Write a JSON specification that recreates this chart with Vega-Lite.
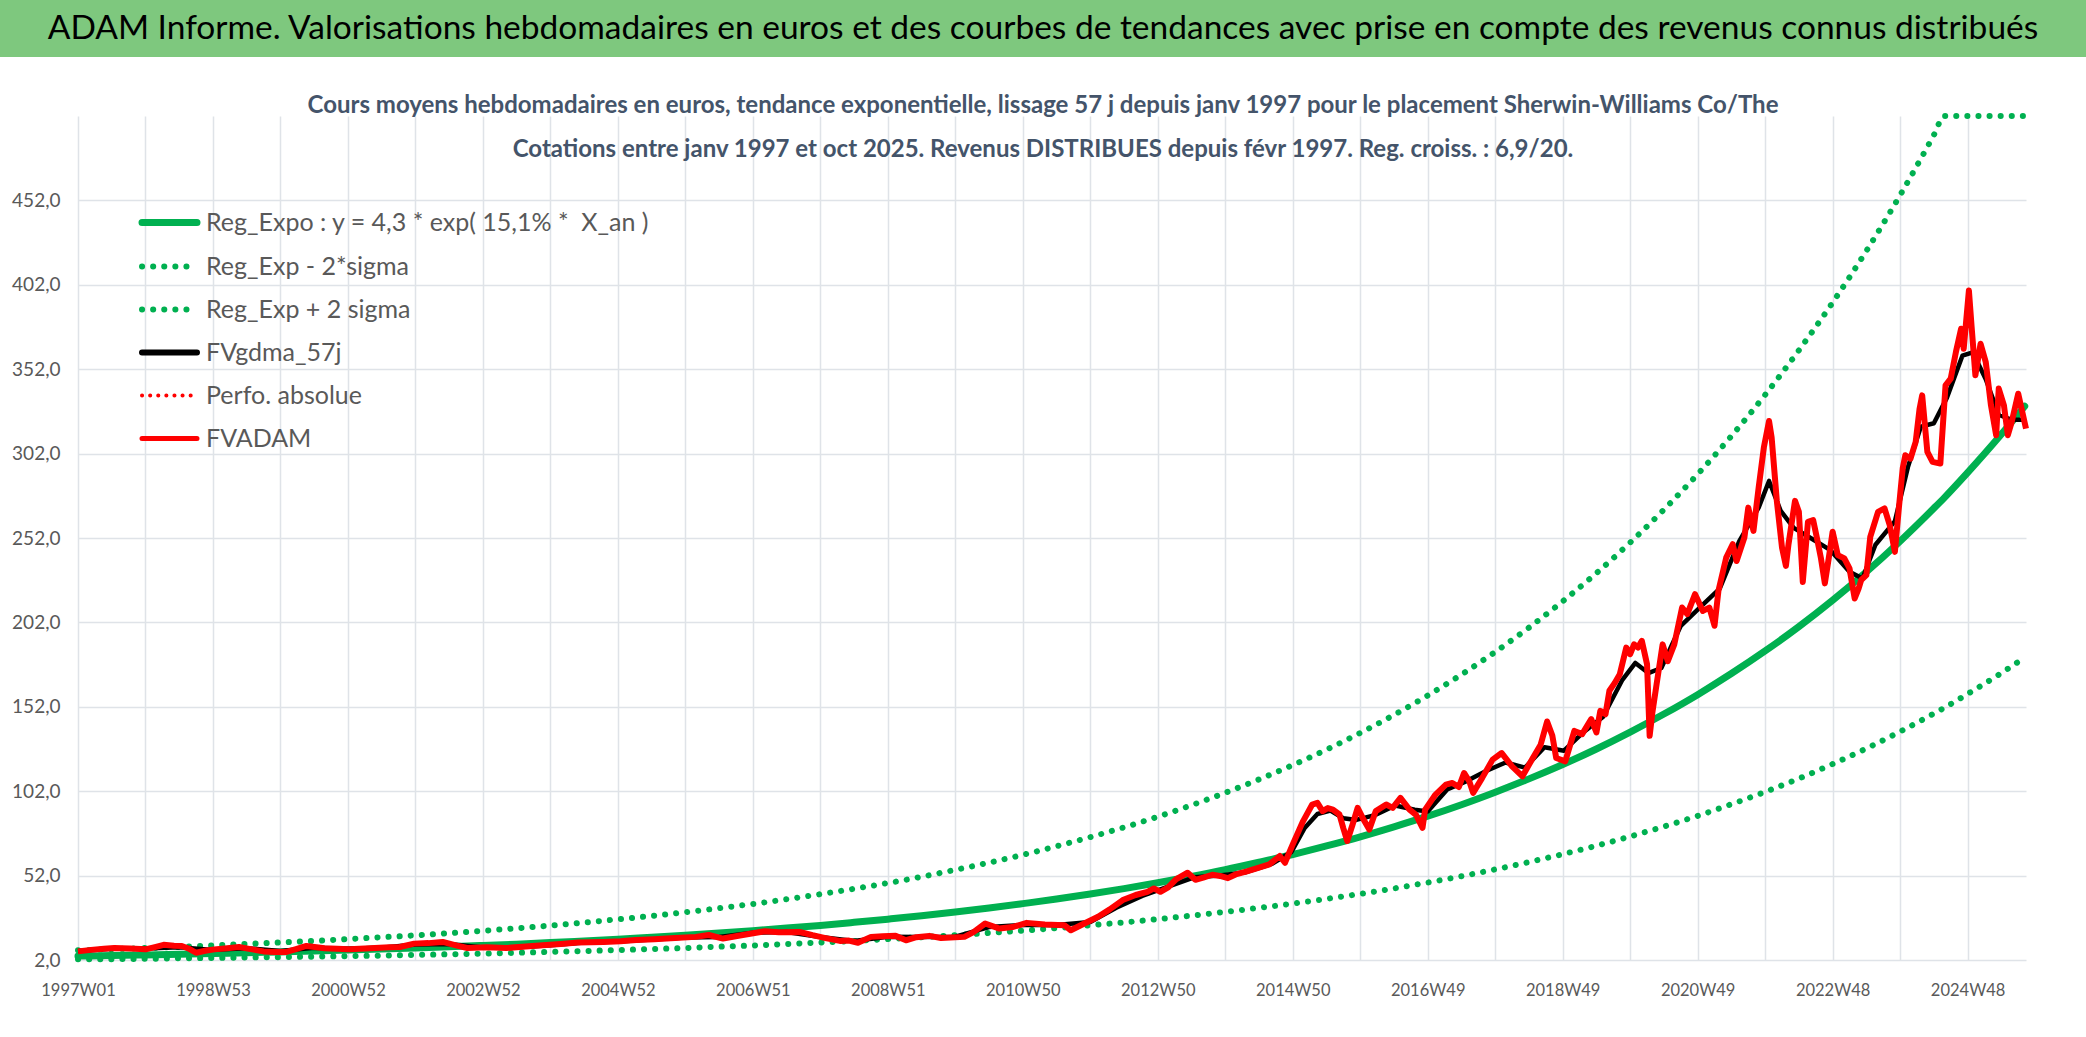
{
  "$schema": "https://vega.github.io/schema/vega-lite/v6.json",
  "background": "white",
  "padding": 0,
  "spacing": 37,
  "config": {
    "view": {"stroke": null},
    "font": "Lato"
  },
  "datasets": {
    "trend": [
      {"w":0,"reg":4.3,"lo":2.4,"hi":7.8},{"w":26,"reg":4.6,"lo":2.5,"hi":8.4},{"w":52,"reg":5.0,"lo":2.7,"hi":9.1},
      {"w":78,"reg":5.4,"lo":3.0,"hi":9.8},{"w":104,"reg":5.8,"lo":3.2,"hi":10.6},{"w":130,"reg":6.3,"lo":3.5,"hi":11.5},
      {"w":156,"reg":6.8,"lo":3.7,"hi":12.4},{"w":182,"reg":7.3,"lo":4.0,"hi":13.3},{"w":208,"reg":7.9,"lo":4.3,"hi":14.4},
      {"w":234,"reg":8.5,"lo":4.6,"hi":15.5},{"w":260,"reg":9.1,"lo":5.0,"hi":16.6},{"w":286,"reg":9.8,"lo":5.4,"hi":17.9},
      {"w":312,"reg":10.6,"lo":5.8,"hi":19.3},{"w":338,"reg":11.4,"lo":6.3,"hi":20.8},{"w":364,"reg":12.3,"lo":6.8,"hi":22.4},
      {"w":390,"reg":13.3,"lo":7.3,"hi":24.2},{"w":416,"reg":14.3,"lo":7.9,"hi":26.1},{"w":442,"reg":15.5,"lo":8.5,"hi":28.1},
      {"w":468,"reg":16.7,"lo":9.1,"hi":30.3},{"w":494,"reg":18.0,"lo":9.9,"hi":32.7},{"w":520,"reg":19.4,"lo":10.6,"hi":35.2},
      {"w":546,"reg":20.9,"lo":11.5,"hi":38.0},{"w":572,"reg":22.5,"lo":12.4,"hi":41.0},{"w":598,"reg":24.3,"lo":13.3,"hi":44.2},
      {"w":624,"reg":26.2,"lo":14.4,"hi":47.6},{"w":650,"reg":28.2,"lo":15.5,"hi":51.3},{"w":676,"reg":30.4,"lo":16.7,"hi":55.4},
      {"w":702,"reg":32.8,"lo":18.0,"hi":59.7},{"w":728,"reg":35.4,"lo":19.4,"hi":64.3},{"w":754,"reg":38.1,"lo":20.9,"hi":69.4},
      {"w":780,"reg":41.1,"lo":22.6,"hi":74.8},{"w":806,"reg":44.3,"lo":24.3,"hi":80.6},{"w":832,"reg":47.8,"lo":26.2,"hi":86.9},
      {"w":858,"reg":51.5,"lo":28.3,"hi":93.7},{"w":884,"reg":55.5,"lo":30.5,"hi":101.1},{"w":910,"reg":59.9,"lo":32.9,"hi":109.0},
      {"w":936,"reg":64.5,"lo":35.4,"hi":117.5},{"w":962,"reg":69.6,"lo":38.2,"hi":126.6},{"w":988,"reg":75.0,"lo":41.2,"hi":136.5},
      {"w":1014,"reg":80.9,"lo":44.4,"hi":147.2},{"w":1040,"reg":87.2,"lo":47.9,"hi":158.7},{"w":1066,"reg":94.0,"lo":51.6,"hi":171.1},
      {"w":1092,"reg":101.4,"lo":55.7,"hi":184.5},{"w":1118,"reg":109.3,"lo":60.0,"hi":198.9},{"w":1144,"reg":117.8,"lo":64.7,"hi":214.5},
      {"w":1170,"reg":127.0,"lo":69.7,"hi":231.2},{"w":1196,"reg":137.0,"lo":75.2,"hi":249.3},{"w":1222,"reg":147.7,"lo":81.1,"hi":268.8},
      {"w":1248,"reg":159.2,"lo":87.4,"hi":289.8},{"w":1274,"reg":171.7,"lo":94.3,"hi":312.4},{"w":1300,"reg":185.1,"lo":101.6,"hi":336.8},
      {"w":1326,"reg":199.5,"lo":109.5,"hi":363.2},{"w":1352,"reg":215.1,"lo":118.1,"hi":391.5},{"w":1378,"reg":231.9,"lo":127.3,"hi":422.1},
      {"w":1404,"reg":250.1,"lo":137.3,"hi":455.1},{"w":1430,"reg":269.6,"lo":148.0,"hi":490.7},{"w":1438,"reg":275.8,"lo":151.4,"hi":502},
      {"w":1456,"reg":290.7,"lo":159.6,"hi":502},{"w":1482,"reg":313.4,"lo":172.0,"hi":502},{"w":1500,"reg":330.1,"lo":181.2,"hi":502}
    ],
    "gdma": [
      {"w":0,"gd":7.3},{"w":26,"gd":8.6},{"w":52,"gd":8.8},{"w":78,"gd":9.6},{"w":104,"gd":8.0},{"w":130,"gd":9.0},
      {"w":156,"gd":7.3},{"w":182,"gd":9.3},{"w":208,"gd":8.6},{"w":234,"gd":9.2},{"w":260,"gd":11.2},{"w":286,"gd":11.5},
      {"w":312,"gd":9.4},{"w":338,"gd":9.6},{"w":364,"gd":10.8},{"w":390,"gd":12.3},{"w":416,"gd":13.0},{"w":442,"gd":14.2},
      {"w":468,"gd":15.3},{"w":494,"gd":15.6},{"w":520,"gd":18.2},{"w":546,"gd":18.6},{"w":572,"gd":15.6},{"w":598,"gd":13.2},
      {"w":624,"gd":15.8},{"w":650,"gd":15.6},{"w":676,"gd":15.8},{"w":702,"gd":21.5},{"w":728,"gd":22.8},{"w":754,"gd":22.8},
      {"w":780,"gd":24.5},{"w":800,"gd":33.0},{"w":820,"gd":40.0},{"w":840,"gd":45.5},{"w":860,"gd":51.0},{"w":880,"gd":52.0},
      {"w":900,"gd":54.0},{"w":920,"gd":59.0},{"w":935,"gd":66.0},{"w":945,"gd":80.0},{"w":955,"gd":88.5},{"w":965,"gd":90.5},
      {"w":975,"gd":86.0},{"w":985,"gd":85.0},{"w":1000,"gd":88.0},{"w":1015,"gd":93.5},{"w":1030,"gd":91.0},{"w":1040,"gd":90.0},
      {"w":1055,"gd":103.0},{"w":1070,"gd":108.0},{"w":1085,"gd":114.0},{"w":1100,"gd":119.0},{"w":1115,"gd":116.0},{"w":1130,"gd":128.0},
      {"w":1145,"gd":126.0},{"w":1160,"gd":137.0},{"w":1175,"gd":146.0},{"w":1190,"gd":168.0},{"w":1200,"gd":178.0},{"w":1210,"gd":172.0},
      {"w":1220,"gd":175.0},{"w":1235,"gd":200.0},{"w":1250,"gd":211.0},{"w":1265,"gd":222.0},{"w":1280,"gd":250.0},{"w":1295,"gd":270.0},
      {"w":1303,"gd":285.8},{"w":1312,"gd":268.0},{"w":1322,"gd":258.0},{"w":1335,"gd":252.0},{"w":1350,"gd":245.0},{"w":1365,"gd":232.0},
      {"w":1375,"gd":228.0},{"w":1385,"gd":248.0},{"w":1400,"gd":262.0},{"w":1410,"gd":294.0},{"w":1420,"gd":318.0},{"w":1430,"gd":320.0},
      {"w":1440,"gd":335.0},{"w":1452,"gd":360.0},{"w":1460,"gd":362.0},{"w":1470,"gd":346.0},{"w":1480,"gd":325.0},{"w":1490,"gd":322.0},
      {"w":1501,"gd":322.0}
    ],
    "adam": [
      {"w":0,"fv":7.1},{"w":10,"fv":8.0},{"w":20,"fv":8.6},{"w":28,"fv":9.1},{"w":40,"fv":8.8},{"w":52,"fv":8.3},{"w":60,"fv":9.8},
      {"w":66,"fv":11.0},{"w":74,"fv":10.5},{"w":80,"fv":10.3},{"w":86,"fv":8.5},{"w":91,"fv":6.3},{"w":98,"fv":7.5},{"w":105,"fv":8.3},
      {"w":115,"fv":9.0},{"w":124,"fv":9.7},{"w":132,"fv":8.6},{"w":143,"fv":7.1},{"w":152,"fv":6.8},{"w":160,"fv":6.7},{"w":168,"fv":8.5},
      {"w":176,"fv":10.3},{"w":190,"fv":9.0},{"w":209,"fv":8.3},{"w":225,"fv":9.0},{"w":240,"fv":9.5},{"w":248,"fv":9.7},{"w":259,"fv":11.7},
      {"w":270,"fv":12.0},{"w":281,"fv":12.7},{"w":292,"fv":10.5},{"w":300,"fv":9.1},{"w":315,"fv":9.5},{"w":330,"fv":9.1},{"w":345,"fv":10.0},
      {"w":358,"fv":10.7},{"w":372,"fv":11.5},{"w":385,"fv":12.3},{"w":405,"fv":12.7},{"w":418,"fv":13.1},{"w":430,"fv":13.8},{"w":444,"fv":14.3},
      {"w":460,"fv":15.0},{"w":476,"fv":15.7},{"w":486,"fv":16.8},{"w":497,"fv":14.7},{"w":510,"fv":16.5},{"w":529,"fv":19.0},{"w":540,"fv":18.5},
      {"w":556,"fv":18.6},{"w":566,"fv":16.7},{"w":576,"fv":15.0},{"w":587,"fv":13.3},{"w":594,"fv":13.5},{"w":601,"fv":12.2},{"w":611,"fv":15.7},
      {"w":620,"fv":16.0},{"w":630,"fv":16.3},{"w":638,"fv":13.7},{"w":646,"fv":15.5},{"w":656,"fv":16.3},{"w":665,"fv":15.0},{"w":683,"fv":15.7},
      {"w":690,"fv":18.5},{"w":699,"fv":23.6},{"w":710,"fv":20.6},{"w":720,"fv":21.5},{"w":731,"fv":24.0},{"w":745,"fv":23.0},{"w":760,"fv":22.6},
      {"w":765,"fv":19.6},{"w":775,"fv":23.5},{"w":786,"fv":27.6},{"w":795,"fv":32.0},{"w":805,"fv":37.5},{"w":815,"fv":40.5},{"w":824,"fv":42.4},
      {"w":829,"fv":44.4},{"w":834,"fv":42.4},{"w":840,"fv":45.0},{"w":846,"fv":49.8},{"w":855,"fv":53.7},{"w":861,"fv":49.5},{"w":867,"fv":50.8},
      {"w":874,"fv":52.5},{"w":880,"fv":51.8},{"w":886,"fv":50.5},{"w":892,"fv":52.7},{"w":900,"fv":54.3},{"w":910,"fv":56.7},{"w":918,"fv":58.7},
      {"w":926,"fv":63.6},{"w":930,"fv":59.6},{"w":936,"fv":70.5},{"w":944,"fv":84.3},{"w":951,"fv":94.1},{"w":955,"fv":95.1},{"w":959,"fv":90.2},
      {"w":963,"fv":92.0},{"w":967,"fv":91.1},{"w":972,"fv":88.2},{"w":975,"fv":80.0},{"w":978,"fv":72.5},{"w":982,"fv":82.0},{"w":986,"fv":92.1},
      {"w":990,"fv":86.0},{"w":995,"fv":79.3},{"w":1000,"fv":90.2},{"w":1008,"fv":94.1},{"w":1013,"fv":92.1},{"w":1019,"fv":98.0},{"w":1026,"fv":91.1},
      {"w":1031,"fv":88.0},{"w":1036,"fv":80.3},{"w":1038,"fv":91.1},{"w":1046,"fv":100.0},{"w":1054,"fv":105.9},{"w":1059,"fv":106.9},{"w":1064,"fv":104.5},
      {"w":1068,"fv":112.8},{"w":1072,"fv":108.0},{"w":1075,"fv":101.0},{"w":1082,"fv":109.9},{"w":1090,"fv":120.7},{"w":1097,"fv":124.6},{"w":1105,"fv":116.7},
      {"w":1113,"fv":110.8},{"w":1118,"fv":117.7},{"w":1127,"fv":129.5},{"w":1132,"fv":143.3},{"w":1136,"fv":135.0},{"w":1139,"fv":121.7},{"w":1146,"fv":119.7},
      {"w":1153,"fv":137.7},{"w":1159,"fv":135.8},{"w":1166,"fv":144.7},{"w":1170,"fv":136.8},{"w":1173,"fv":149.6},{"w":1177,"fv":147.6},{"w":1180,"fv":161.5},
      {"w":1184,"fv":166.0},{"w":1188,"fv":171.3},{"w":1193,"fv":187.1},{"w":1196,"fv":183.2},{"w":1199,"fv":189.0},{"w":1202,"fv":187.1},{"w":1205,"fv":191.1},
      {"w":1209,"fv":177.2},{"w":1211,"fv":134.8},{"w":1213,"fv":148.0},{"w":1216,"fv":163.5},{"w":1221,"fv":189.0},{"w":1225,"fv":179.0},{"w":1230,"fv":189.0},
      {"w":1236,"fv":210.8},{"w":1240,"fv":206.9},{"w":1246,"fv":218.7},{"w":1252,"fv":208.8},{"w":1257,"fv":210.8},{"w":1261,"fv":200.0},{"w":1264,"fv":220.7},
      {"w":1270,"fv":240.4},{"w":1275,"fv":248.3},{"w":1278,"fv":238.4},{"w":1284,"fv":252.3},{"w":1287,"fv":270.0},{"w":1291,"fv":256.2},{"w":1295,"fv":281.9},
      {"w":1299,"fv":305.6},{"w":1303,"fv":321.3},{"w":1305,"fv":311.5},{"w":1309,"fv":274.0},{"w":1313,"fv":246.3},{"w":1316,"fv":235.5},{"w":1318,"fv":248.3},
      {"w":1323,"fv":274.0},{"w":1326,"fv":267.5},{"w":1329,"fv":226.0},{"w":1333,"fv":261.6},{"w":1337,"fv":262.6},{"w":1340,"fv":251.7},{"w":1343,"fv":240.0},
      {"w":1346,"fv":225.1},{"w":1349,"fv":240.0},{"w":1352,"fv":255.7},{"w":1356,"fv":241.9},{"w":1361,"fv":239.9},{"w":1365,"fv":234.0},{"w":1369,"fv":216.2},
      {"w":1372,"fv":222.0},{"w":1374,"fv":227.1},{"w":1378,"fv":230.0},{"w":1381,"fv":252.7},{"w":1387,"fv":267.5},{"w":1392,"fv":269.5},{"w":1396,"fv":259.6},
      {"w":1400,"fv":243.8},{"w":1403,"fv":269.5},{"w":1406,"fv":293.2},{"w":1408,"fv":301.0},{"w":1412,"fv":299.0},{"w":1416,"fv":308.9},{"w":1419,"fv":328.6},
      {"w":1421,"fv":336.5},{"w":1425,"fv":303.0},{"w":1429,"fv":297.1},{"w":1435,"fv":296.1},{"w":1439,"fv":342.4},{"w":1443,"fv":346.4},{"w":1447,"fv":362.2},
      {"w":1451,"fv":376.0},{"w":1453,"fv":364.1},{"w":1457,"fv":398.6},{"w":1459,"fv":378.0},{"w":1462,"fv":348.4},{"w":1466,"fv":367.1},{"w":1470,"fv":356.2},
      {"w":1474,"fv":330.6},{"w":1478,"fv":312.9},{"w":1480,"fv":340.5},{"w":1484,"fv":330.6},{"w":1487,"fv":312.9},{"w":1490,"fv":320.8},{"w":1495,"fv":337.5},
      {"w":1501,"fv":316.8}
    ]
  },
  "vconcat": [
    {
      "width": 2086,
      "height": 57,
      "view": {"fill": "#7ec87e", "stroke": null},
      "data": {"values": [{"t": "ADAM Informe. Valorisations hebdomadaires en euros et des courbes de tendances avec prise en compte des revenus connus distribués"}]},
      "mark": {"type": "text", "fontSize": 33.5, "color": "#000000", "baseline": "middle"},
      "encoding": {"text": {"field": "t"}}
    },
    {
      "width": 2026,
      "height": 844,
      "title": {
        "text": [
          "Cours moyens hebdomadaires en euros, tendance exponentielle, lissage 57 j depuis janv 1997 pour le placement Sherwin-Williams Co/The",
          "Cotations entre janv 1997 et oct 2025. Revenus DISTRIBUES depuis févr 1997. Reg. croiss. : 6,9/20."
        ],
        "anchor": "middle",
        "frame": "group",
        "dx": 30,
        "fontSize": 24,
        "fontWeight": "bold",
        "color": "#44546a",
        "lineHeight": 44,
        "offset": -58
      },
      "encoding": {
        "x": {
          "field": "w",
          "type": "quantitative",
          "scale": {"domain": [0, 1501], "nice": false, "zero": false, "range": [78, 2026]},
          "axis": {
            "title": null,
            "values": [0,52,104,156,208,260,312,364,416,468,520,572,624,676,728,780,832,884,936,988,1040,1092,1144,1196,1248,1300,1352,1404,1456],
            "labelExpr": "datum.value % 104 == 0 ? ['1997W01','1998W53','2000W52','2002W52','2004W52','2006W51','2008W51','2010W50','2012W50','2014W50','2016W49','2018W49','2020W49','2022W48','2024W48'][datum.value / 104] : ''",
            "labelFontSize": 16.5,
            "labelColor": "#595959",
            "labelPadding": 22,
            "labelOverlap": false,
            "labelFlush": false,
            "ticks": false,
            "domain": false,
            "grid": true,
            "gridColor": "#dfe3e8",
            "gridWidth": 1.5
          }
        },
        "y": {
          "field": "v",
          "type": "quantitative",
          "scale": {"domain": [2, 502], "nice": false, "zero": false},
          "axis": {
            "title": null,
            "values": [2,52,102,152,202,252,302,352,402,452],
            "labelExpr": "replace(format(datum.value, '.1f'), '.', ',')",
            "labelFontSize": 19,
            "labelColor": "#595959",
            "labelPadding": 18,
            "offset": -78,
            "ticks": false,
            "domain": false,
            "grid": true,
            "gridColor": "#dfe3e8",
            "gridWidth": 1.5
          }
        },
        "color": {
          "field": "s",
          "type": "nominal",
          "scale": {
            "domain": ["reg", "lo", "hi", "gd", "pa", "fv"],
            "range": ["#00b050", "#00b050", "#00b050", "#000000", "#ff0000", "#ff0000"]
          },
          "legend": {
            "title": null,
            "orient": "none",
            "legendX": 157,
            "legendY": 210,
            "padding": 0,
            "symbolType": "M-3,0H3",
            "symbolSize": 336,
            "labelFontSize": 25,
            "labelColor": "#595959",
            "labelLimit": 0,
            "labelOffset": 24,
            "rowPadding": 17,
            "labelExpr": "datum.label == 'reg' ? 'Reg_Expo : y = 4,3 * exp( 15,1% *\u00a0 X_an )' : datum.label == 'lo' ? 'Reg_Exp - 2*sigma' : datum.label == 'hi' ? 'Reg_Exp + 2 sigma' : datum.label == 'gd' ? 'FVgdma_57j' : datum.label == 'pa' ? 'Perfo. absolue' : 'FVADAM'",
            "encode": {
              "symbols": {
                "update": {
                  "strokeWidth": {"signal": "datum.value == 'reg' ? 7 : datum.value == 'gd' ? 6 : datum.value == 'pa' ? 4 : datum.value == 'fv' ? 5 : 6"},
                  "strokeDash": {"signal": "datum.value == 'lo' || datum.value == 'hi' ? [0.1, 11] : datum.value == 'pa' ? [0.1, 8] : [1, 0]"},
                  "strokeCap": {"value": "round"}
                }
              }
            }
          }
        }
      },
      "layer": [
        {
          "data": {"values": [{}]},
          "mark": {"type": "rect", "fill": "#ffffff"},
          "encoding": {
            "x": {"datum": 130, "type": "quantitative"},
            "x2": {"datum": 1330},
            "y": {"datum": 470, "type": "quantitative"},
            "y2": {"datum": 502},
            "color": {"value": "#ffffff"}
          }
        },
        {
          "data": {"name": "trend"},
          "transform": [{"fold": ["reg"], "as": ["s", "v"]}],
          "mark": {"type": "line", "strokeWidth": 7, "strokeCap": "round", "interpolate": "monotone"}
        },
        {
          "data": {"name": "trend"},
          "transform": [{"fold": ["lo", "hi"], "as": ["s", "v"]}],
          "mark": {"type": "line", "strokeWidth": 6, "strokeCap": "round", "strokeDash": [0.1, 11], "interpolate": "monotone"}
        },
        {
          "data": {"name": "gdma"},
          "transform": [{"fold": ["gd"], "as": ["s", "v"]}],
          "mark": {"type": "line", "strokeWidth": 4.5, "strokeJoin": "round"}
        },
        {
          "data": {"name": "adam"},
          "transform": [{"fold": ["fv"], "as": ["s", "v"]}],
          "mark": {"type": "line", "strokeWidth": 6, "strokeJoin": "round"}
        }
      ]
    }
  ]
}
